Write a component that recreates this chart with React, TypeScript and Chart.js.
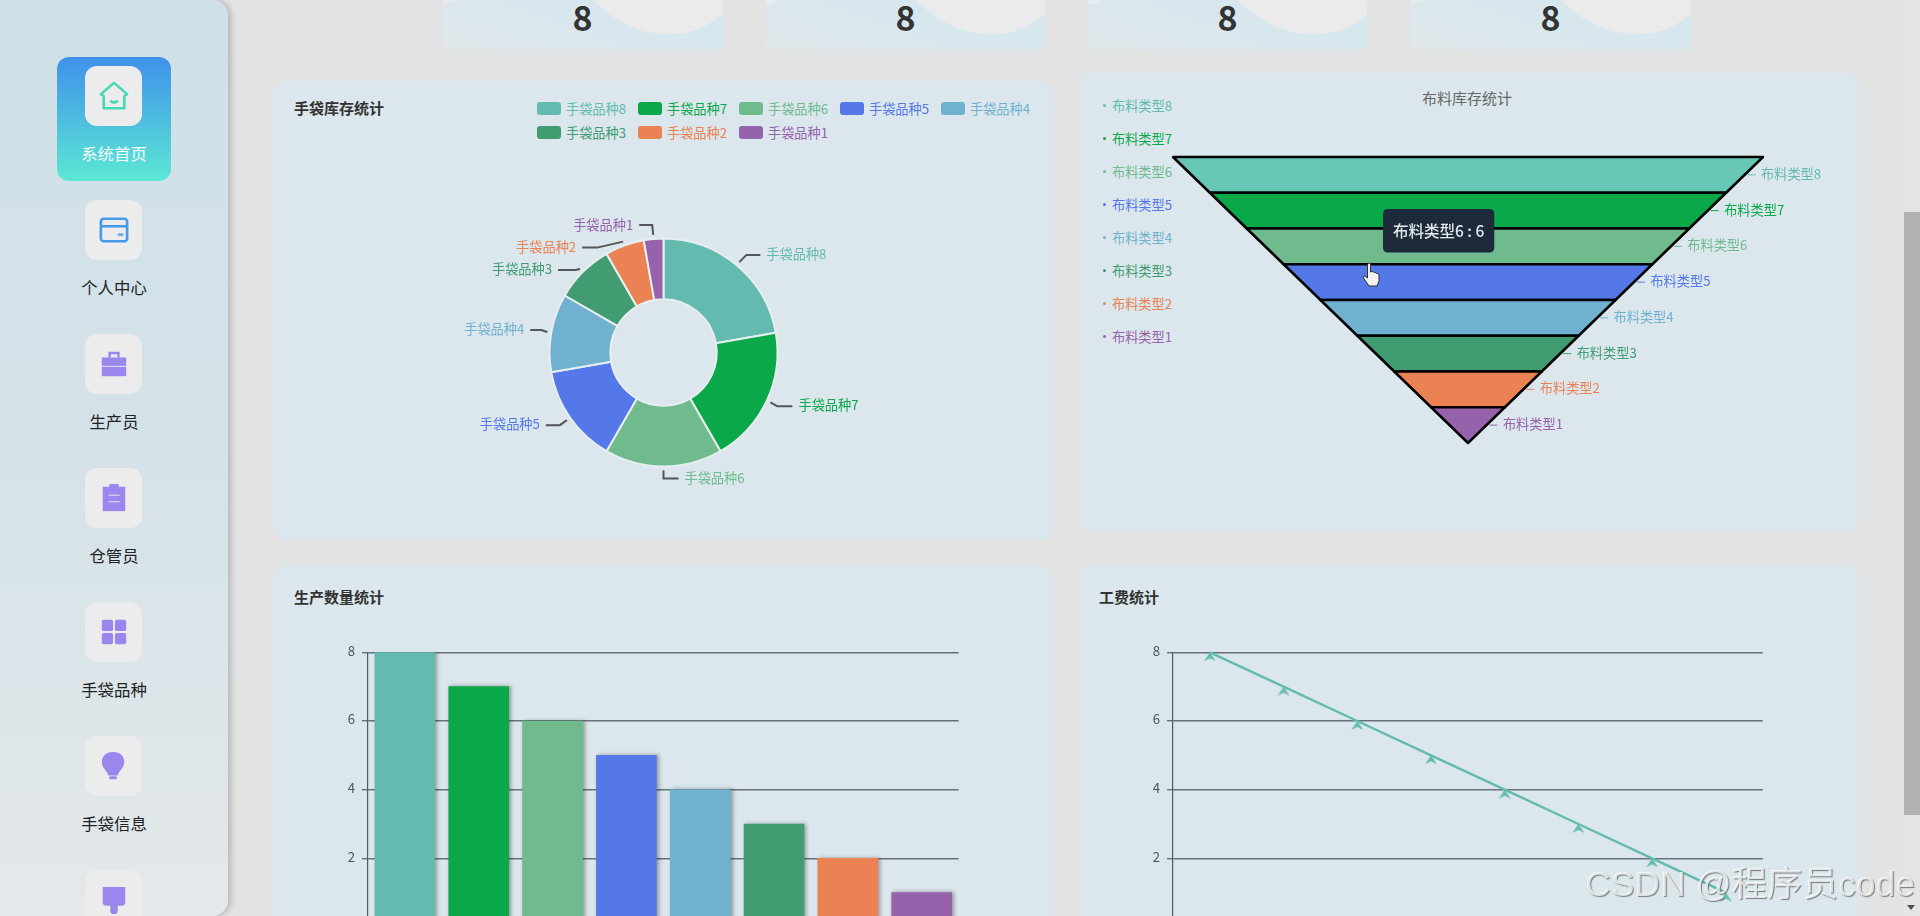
import { useEffect, useRef } from "react"
import { Chart, registerables, Tooltip } from "chart.js"

Chart.register(...registerables)

const bagCategories = ["手袋品种8", "手袋品种7", "手袋品种6", "手袋品种5", "手袋品种4", "手袋品种3", "手袋品种2", "手袋品种1"]
const fabricCategories = ["布料类型8", "布料类型7", "布料类型6", "布料类型5", "布料类型4", "布料类型3", "布料类型2", "布料类型1"]
const bagStock = [8, 7, 6, 5, 4, 3, 2, 1]
const fabricStock = [8, 7, 6, 5, 4, 3, 2, 1]
const productionCounts = [8, 7, 6, 5, 4, 3, 2, 1]
const laborCosts = [8, 7, 6, 5, 4, 3, 2, 1]
const statValues = [8, 8, 8, 8]
const navItems = ["系统首页", "个人中心", "生产员", "仓管员", "手袋品种", "手袋信息", ""]

const palette = ["#63bbb0", "#0ba84a", "#70bb8d", "#5478e8", "#70b1d0", "#419c71", "#ea8253", "#9562ab"]
const FONT = '"Noto Sans CJK SC", "Noto Sans", sans-serif'
const GRID = "#66727a"
const AXIS = "#4f5a60"
const LABEL_SIZE = 13.2

// [elbow dx, elbow dy, horizontal run] for each donut label leader
const pieLeaders = [
  [7, -7, 14],
  [7, 4, 15],
  [0, 8, 15],
  [-7, 5, -14],
  [-6, -2, -11],
  [-5, 1, -17],
  [-26, 6, -15],
  [-1, -10, -13],
]

const pieLabelPlugin = {
  id: "pieLabels",
  afterDatasetsDraw(chart: any) {
    const { ctx } = chart
    chart.getDatasetMeta(0).data.forEach((arc: any, i: number) => {
      const mid = (arc.startAngle + arc.endAngle) / 2
      const r = arc.outerRadius + 4
      const sx = arc.x + Math.cos(mid) * r
      const sy = arc.y + Math.sin(mid) * r
      const [dx, dy, run] = pieLeaders[i]
      const ex = sx + dx
      const ey = sy + dy
      ctx.save()
      ctx.strokeStyle = "#555"
      ctx.lineWidth = 2
      ctx.beginPath()
      ctx.moveTo(sx, sy)
      ctx.lineTo(ex, ey)
      ctx.lineTo(ex + run, ey)
      ctx.stroke()
      ctx.font = `${LABEL_SIZE}px ${FONT}`
      ctx.fillStyle = palette[i]
      ctx.textBaseline = "middle"
      ctx.textAlign = run > 0 ? "left" : "right"
      ctx.fillText(bagCategories[i], ex + run + (run > 0 ? 6 : -6), ey - (i === 7 ? 0 : 1))
      ctx.restore()
    })
  },
}

// the funnel is a floating horizontal bar chart; each bar is painted as a trapezoid
const funnelPlugin = {
  id: "funnel",
  afterDatasetsDraw(chart: any) {
    const { ctx, scales } = chart
    chart.getDatasetMeta(0).data.forEach((bar: any, i: number) => {
      const v = fabricStock[i]
      const next = fabricStock[i + 1] ?? 0
      const top = bar.y - bar.height / 2
      const bottom = bar.y + bar.height / 2
      const px = (n: number) => scales.x.getPixelForValue(n)
      ctx.save()
      ctx.beginPath()
      ctx.moveTo(px(-v / 2), top)
      ctx.lineTo(px(v / 2), top)
      ctx.lineTo(px(next / 2), bottom)
      ctx.lineTo(px(-next / 2), bottom)
      ctx.closePath()
      ctx.fillStyle = i === 0 ? "#68c8b8" : palette[i]
      ctx.fill()
      ctx.strokeStyle = "#000"
      ctx.lineWidth = 2.5
      ctx.lineJoin = "round"
      ctx.stroke()

      const edge = px((v + next) / 4)
      ctx.strokeStyle = palette[i]
      ctx.lineWidth = 1
      ctx.beginPath()
      ctx.moveTo(edge + 3, bar.y)
      ctx.lineTo(edge + 11, bar.y)
      ctx.stroke()
      ctx.font = `${LABEL_SIZE}px ${FONT}`
      ctx.fillStyle = palette[i]
      ctx.textBaseline = "middle"
      ctx.fillText(fabricCategories[i], edge + 16.5, bar.y - 1)
      ctx.restore()
    })
  },
}

const barShadowPlugin = {
  id: "barShadow",
  beforeDatasetsDraw(chart: any) {
    chart.ctx.save()
    chart.ctx.shadowColor = "rgba(0,0,0,0.35)"
    chart.ctx.shadowBlur = 4
    chart.ctx.shadowOffsetX = 2
  },
  afterDatasetsDraw(chart: any) {
    chart.ctx.restore()
  },
}

;(Tooltip.positioners as any).pinned = () => ({ x: 310, y: 136 })

function arrowMarker() {
  const c = document.createElement("canvas")
  c.width = 14
  c.height = 18
  const g = c.getContext("2d")!
  g.fillStyle = palette[0]
  g.beginPath()
  g.moveTo(7, 9)
  g.lineTo(13, 18)
  g.lineTo(7, 15)
  g.lineTo(1, 18)
  g.closePath()
  g.fill()
  return c
}

function useChart(build: () => any, after?: (c: Chart) => void) {
  const ref = useRef<HTMLCanvasElement>(null)
  useEffect(() => {
    if (!ref.current) return
    const chart = new Chart(ref.current, build())
    if (after) after(chart)
    return () => chart.destroy()
  }, [])
  return ref
}

const base = { responsive: false, animation: false, devicePixelRatio: 1, events: [] as string[] }
const noLegend = { legend: { display: false }, tooltip: { enabled: false } }

function axes() {
  return {
    x: {
      offset: true,
      grid: { display: false, offset: true },
      border: { color: AXIS },
      ticks: { color: "#444", font: { family: FONT, size: 12 } },
      afterFit: (s: any) => {
        s.height = 30
      },
    },
    y: {
      min: 0,
      max: 8,
      grid: { color: GRID, lineWidth: 1.4, tickLength: 6 },
      border: { color: AXIS, width: 1.2 },
      ticks: {
        stepSize: 2,
        padding: 7,
        labelOffset: -1.5,
        color: "#4a555c",
        font: { family: FONT, size: LABEL_SIZE },
      },
      afterFit: (s: any) => {
        s.width = 40
      },
    },
  }
}

function canvasStyle(left: number, top: number) {
  return { position: "absolute", left, top, display: "block" } as const
}

function PieChart() {
  const ref = useChart(() => ({
    type: "doughnut",
    data: {
      labels: bagCategories,
      datasets: [{ data: bagStock, backgroundColor: palette, borderColor: "#e6eef0", borderWidth: 2 }],
    },
    options: {
      ...base,
      radius: 114,
      cutout: 53,
      layout: { padding: { left: 277, right: 275, top: 159, bottom: 70 } },
      plugins: noLegend,
    },
    plugins: [pieLabelPlugin],
  }))
  return <canvas ref={ref} width={781} height={458} style={canvasStyle(272, 79)} />
}

function FunnelChart() {
  const ref = useChart(
    () => ({
      type: "bar",
      data: {
        labels: fabricCategories,
        datasets: [
          {
            data: fabricStock.map((v) => [-v / 2, v / 2]),
            backgroundColor: "transparent",
            barPercentage: 1,
            categoryPercentage: 1,
          },
        ],
      },
      options: {
        ...base,
        indexAxis: "y",
        layout: { padding: { left: 95, right: 96, top: 84, bottom: 90 } },
        scales: {
          x: { display: false, min: -4, max: 4 },
          y: { display: false },
        },
        plugins: {
          legend: { display: false },
          tooltip: {
            position: "pinned",
            xAlign: "left",
            yAlign: "top",
            caretSize: 0,
            caretPadding: 0,
            cornerRadius: 5,
            displayColors: false,
            backgroundColor: "#1c2a3a",
            bodyColor: "#e4e7ea",
            bodyFont: { family: FONT, size: 15.5, weight: "500" },
            padding: { x: 10, y: 12.5 },
            callbacks: {
              title: () => "",
              label: (c: any) => `${c.label} : ${fabricStock[c.dataIndex]}`,
            },
          },
        },
      },
      plugins: [funnelPlugin],
    }),
    (chart) => {
      // the screenshot was taken while hovering the third band
      chart.tooltip!.setActiveElements([{ datasetIndex: 0, index: 2 }], { x: 0, y: 0 })
      chart.update()
    },
  )
  return <canvas ref={ref} width={781} height={460} style={canvasStyle(1078, 73)} />
}

function ProductionChart() {
  const ref = useChart(() => ({
    type: "bar",
    data: {
      labels: bagCategories,
      datasets: [{ data: productionCounts, backgroundColor: palette, barThickness: 60 }],
    },
    options: {
      ...base,
      layout: { padding: { left: 56, right: 94.4, top: 87.3, bottom: 28 } },
      scales: axes(),
      plugins: noLegend,
    },
    plugins: [barShadowPlugin],
  }))
  return <canvas ref={ref} width={781} height={420} style={canvasStyle(272, 565)} />
}

function LaborChart() {
  const ref = useChart(() => ({
    type: "line",
    data: {
      labels: bagCategories,
      datasets: [
        {
          data: laborCosts,
          borderColor: palette[0],
          borderWidth: 2.4,
          tension: 0,
          pointStyle: arrowMarker(),
          pointRadius: 6,
          clip: false,
        },
      ],
    },
    options: {
      ...base,
      layout: { padding: { left: 55, right: 96.3, top: 87.3, bottom: 28 } },
      scales: axes(),
      plugins: noLegend,
    },
  }))
  return <canvas ref={ref} width={781} height={420} style={canvasStyle(1078, 565)} />
}

const iconColor = "#9a86ec"
const navIcons = [
  <svg width="30" height="30" viewBox="0 0 32 32" fill="none" stroke="#46d8b4" strokeWidth="2.8" strokeLinejoin="round">
    <path d="M2 14 L16 2 L30 14 L27 16 V29 H5 V16 Z" />
    <path d="M12 21 Q16 25 20 21" />
  </svg>,
  <svg width="30" height="30" viewBox="0 0 32 32" fill="none" stroke="#4a98e8" strokeWidth="2.8">
    <rect x="2" y="4" width="28" height="24" rx="3" />
    <path d="M2 12 H30" />
    <path d="M20 21 H26" stroke="#7aa9e6" strokeWidth="3" />
  </svg>,
  <svg width="30" height="30" viewBox="0 0 32 32" fill={iconColor}>
    <path d="M10 3 H22 V9 H19.5 V5.5 H12.5 V9 H10 Z" />
    <rect x="3" y="9" width="26" height="9" />
    <rect x="3" y="19" width="26" height="10" />
  </svg>,
  <svg width="30" height="30" viewBox="0 0 32 32" fill={iconColor}>
    <rect x="11" y="1" width="10" height="4" rx="1.5" />
    <rect x="4" y="4" width="24" height="26" />
    <path d="M10 13 H22 M10 20 H22" stroke="#ecebee" strokeWidth="1" />
  </svg>,
  <svg width="30" height="30" viewBox="0 0 32 32" fill={iconColor}>
    <rect x="3" y="3" width="12" height="12" rx="2" />
    <rect x="17" y="3" width="12" height="12" rx="2" />
    <rect x="3" y="17" width="12" height="12" rx="2" />
    <rect x="17" y="17" width="12" height="12" rx="2" />
  </svg>,
  <svg width="30" height="30" viewBox="0 0 32 32" fill={iconColor}>
    <path d="M15 1 C23 1 27 6 27 12 C27 18 21 21 20 26 H10 C9 21 3 18 3 12 C3 6 7 1 15 1 Z" />
    <rect x="11" y="27" width="8" height="3" rx="1" />
  </svg>,
  <svg width="30" height="30" viewBox="0 0 32 32" fill={iconColor}>
    <path d="M4 2 H28 V19 Q28 22 24 22 H20 V28 Q20 31 16 31 Q12 31 12 28 V22 H8 Q4 22 4 19 Z" />
  </svg>,
]

function Sidebar() {
  return (
    <div
      style={{
        position: "absolute",
        left: 0,
        top: 0,
        width: 228,
        height: 916,
        borderTopRightRadius: 16,
        borderBottomRightRadius: 16,
        background: "linear-gradient(180deg,#cfe1e8 0%,#d5e2e8 50%,#e4e8ea 100%)",
        boxShadow: "3px 0 6px rgba(0,0,0,0.2)",
      }}
    >
      <div
        style={{
          position: "absolute",
          left: 57,
          top: 57,
          width: 114,
          height: 124,
          borderRadius: 12,
          background: "linear-gradient(180deg,#3f91ea,#5ce8d4)",
        }}
      />
      {navItems.map((label, i) => {
        const top = i === 0 ? 66 : 200 + (i - 1) * 134
        return (
          <div key={i}>
            <div
              style={{
                position: "absolute",
                left: 85,
                top,
                width: 57,
                height: 60,
                borderRadius: 12,
                background: "#ececec",
                display: "flex",
                alignItems: "center",
                justifyContent: "center",
              }}
            >
              {navIcons[i]}
            </div>
            <div
              style={{
                position: "absolute",
                left: 57,
                width: 114,
                top: top + 75,
                height: 24,
                lineHeight: "24px",
                textAlign: "center",
                fontSize: 16.4,
                color: i === 0 ? "#f2fbfa" : "#1f2427",
              }}
            >
              {label}
            </div>
          </div>
        )
      })}
    </div>
  )
}

const tileLefts = [443, 766, 1088, 1411]

function StatTiles() {
  return (
    <>
      {statValues.map((v, i) => (
        <div
          key={i}
          style={{
            position: "absolute",
            left: tileLefts[i],
            top: 0,
            width: 279,
            height: 49,
            overflow: "hidden",
            background: "linear-gradient(200deg,#d6e7ef 0%,#d8e7ee 45%,#e1e7ea 100%)",
            boxShadow: "0 0 4px rgba(220,230,235,0.8)",
          }}
        >
          <svg width="279" height="49" style={{ position: "absolute", left: 0, top: 0 }}>
            <path d="M150 0 C175 25 205 38 240 33 C258 30 270 22 279 14 V0 Z" fill="#ebebeb" />
            <path d="M0 0 H14 Q8 4 0 5 Z" fill="#e9ecee" />
          </svg>
          <div
            style={{
              position: "absolute",
              left: 0,
              top: -8,
              width: 279,
              textAlign: "center",
              fontSize: 34,
              fontWeight: 700,
              lineHeight: "50px",
              color: "#333",
            }}
          >
            {v}
          </div>
        </div>
      ))}
    </>
  )
}

function Card(props: { left: number; top: number; width: number; height: number }) {
  return (
    <div
      style={{
        position: "absolute",
        left: props.left,
        top: props.top,
        width: props.width,
        height: props.height,
        borderRadius: 14,
        background: "#dbe7ec",
      }}
    />
  )
}

function CardTitle(props: { left: number; top: number; text: string }) {
  return (
    <div
      style={{
        position: "absolute",
        left: props.left,
        top: props.top - 11,
        height: 22,
        lineHeight: "22px",
        fontSize: 15,
        fontWeight: 700,
        color: "#333",
      }}
    >
      {props.text}
    </div>
  )
}

function PieLegend() {
  return (
    <div style={{ position: "absolute", left: 537, top: 98.5, width: 510, display: "flex", flexWrap: "wrap", rowGap: 4 }}>
      {bagCategories.map((name, i) => (
        <div key={name} style={{ display: "flex", alignItems: "center", width: 101, height: 20 }}>
          <span style={{ width: 24, height: 13, borderRadius: 3, background: palette[i], marginRight: 5 }} />
          <span style={{ fontSize: LABEL_SIZE, lineHeight: "20px", color: palette[i] }}>{name}</span>
        </div>
      ))}
    </div>
  )
}

function FunnelLegend() {
  return (
    <>
      {fabricCategories.map((name, i) => (
        <div key={name} style={{ position: "absolute", left: 1103, top: 95.5 + i * 33, height: 20, display: "flex", alignItems: "center" }}>
          <span style={{ width: 3, height: 3, borderRadius: 2, background: palette[i], marginRight: 6 }} />
          <span style={{ fontSize: LABEL_SIZE, lineHeight: "20px", color: palette[i] }}>{name}</span>
        </div>
      ))}
    </>
  )
}

function HandCursor() {
  return (
    <svg style={{ position: "absolute", left: 1362, top: 262 }} width="19" height="25" viewBox="0 0 19 25">
      <path
        d="M6 1.5 Q7.5 0.5 8.5 2 V10 L10 9.5 Q11.5 9.5 12 10.5 Q13.5 10 14.5 11.5 Q16.5 11 17 13 V19 L15 24 H7 L1.5 16 Q1 14 3 14 L5.5 16 V3 Z"
        fill="#f2f2f2"
        stroke="#333"
        strokeWidth="1"
        strokeLinejoin="round"
      />
    </svg>
  )
}

function Scrollbar() {
  return (
    <div style={{ position: "absolute", left: 1903, top: 0, width: 17, height: 916, background: "#e4e4e4" }}>
      <div style={{ position: "absolute", left: 1, top: 212, width: 16, height: 603, background: "#b2b2b2" }} />
      <div
        style={{
          position: "absolute",
          left: 4,
          top: 905,
          width: 0,
          height: 0,
          borderLeft: "4px solid transparent",
          borderRight: "4px solid transparent",
          borderTop: "5px solid #505050",
        }}
      />
    </div>
  )
}

export default function App() {
  return (
    <div
      style={{
        position: "fixed",
        left: 0,
        top: 0,
        width: 1920,
        height: 916,
        overflow: "hidden",
        background: "#e3e3e3",
        fontFamily: FONT,
      }}
    >
      <Sidebar />
      <StatTiles />
      <Card left={273} top={81} width={780} height={459} />
      <Card left={1078} top={73} width={781} height={459} />
      <Card left={273} top={565} width={780} height={420} />
      <Card left={1078} top={565} width={781} height={420} />
      <CardTitle left={294} top={108} text="手袋库存统计" />
      <CardTitle left={294} top={597} text="生产数量统计" />
      <CardTitle left={1099} top={597} text="工费统计" />
      <div
        style={{
          position: "absolute",
          left: 1367,
          width: 200,
          top: 87,
          height: 22,
          lineHeight: "22px",
          textAlign: "center",
          fontSize: 15,
          color: "#666",
        }}
      >
        布料库存统计
      </div>
      <PieLegend />
      <FunnelLegend />
      <PieChart />
      <FunnelChart />
      <ProductionChart />
      <LaborChart />
      <HandCursor />
      <Scrollbar />
      <div
        style={{
          position: "absolute",
          left: 1585,
          top: 861,
          height: 46,
          lineHeight: "46px",
          fontSize: 35.5,
          whiteSpace: "nowrap",
          fontFamily: '"Liberation Sans", "Noto Sans CJK SC", sans-serif',
          color: "rgba(255,255,255,0.75)",
          textShadow: "1px 1px 1px rgba(90,90,90,0.75)",
        }}
      >
        CSDN @程序员code
      </div>
    </div>
  )
}
